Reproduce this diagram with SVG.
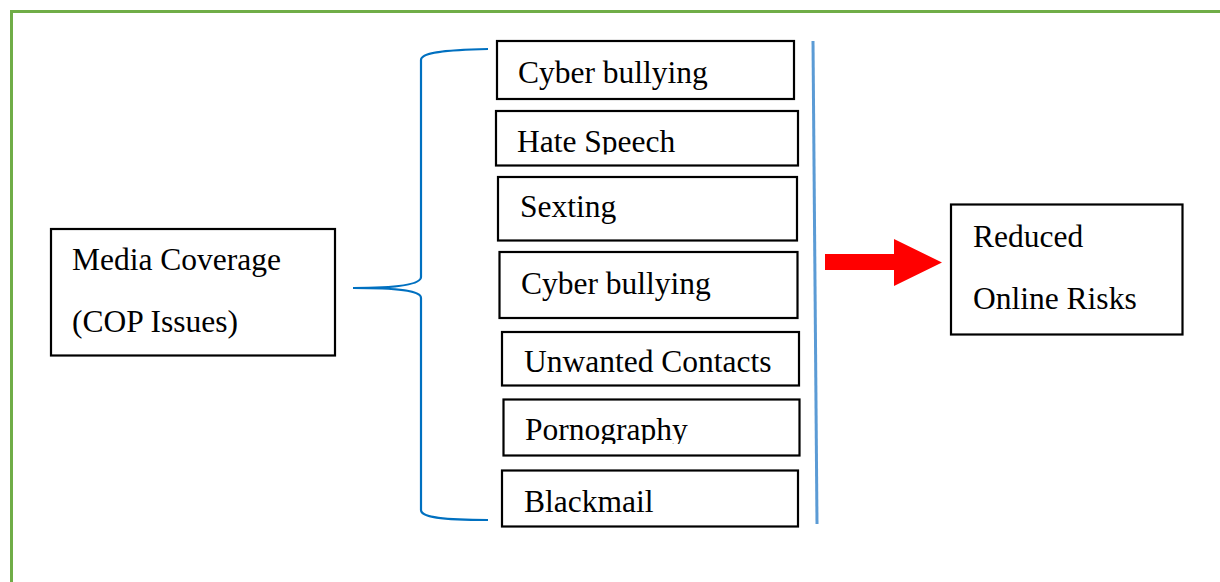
<svg xmlns="http://www.w3.org/2000/svg" width="1220" height="582" viewBox="0 0 1220 582">
<style>
.box{fill:#fff;stroke:#000;stroke-width:2.2}
.t{font-family:"Liberation Serif","Times New Roman",serif;font-size:31.5px;fill:#000}
.brace{fill:none;stroke:#0070C0;stroke-width:2.2}
</style>
<defs>
<clipPath id="clipHate"><rect x="496" y="111" width="302" height="43.5"/></clipPath>
<clipPath id="clipPorn"><rect x="503" y="399" width="297" height="45"/></clipPath>
</defs>
<rect x="0" y="0" width="1220" height="582" fill="#fff"/>
<path d="M11.5 582 V11.5 H1220" fill="none" stroke="#70AD47" stroke-width="3"/>
<g id="media">
<rect class="box" x="51" y="229" width="284" height="126.5"/>
<text class="t" x="72" y="270">Media Coverage</text>
<text class="t" x="72" y="332">(COP Issues)</text>
</g>
<g id="cyber1">
<rect class="box" x="497" y="41" width="297" height="58"/>
<text class="t" x="518" y="83">Cyber bullying</text>
</g>
<g id="hate">
<rect class="box" x="496" y="111" width="302" height="54.5"/>
<text class="t" x="517" y="152" clip-path="url(#clipHate)">Hate Speech</text>
</g>
<g id="sexting">
<rect class="box" x="498" y="177" width="299" height="63.5"/>
<text class="t" x="520" y="217">Sexting</text>
</g>
<g id="cyber2">
<rect class="box" x="499.5" y="252" width="298" height="66"/>
<text class="t" x="521" y="293.5">Cyber bullying</text>
</g>
<g id="unwanted">
<rect class="box" x="502" y="332" width="297" height="53.5"/>
<text class="t" x="524" y="372">Unwanted Contacts</text>
</g>
<g id="porn">
<rect class="box" x="503.5" y="399.5" width="296" height="56"/>
<text class="t" x="525" y="440" clip-path="url(#clipPorn)">Pornography</text>
</g>
<g id="blackmail">
<rect class="box" x="502" y="470.5" width="296" height="56"/>
<text class="t" x="524" y="512">Blackmail</text>
</g>
<g id="reduced">
<rect class="box" x="951" y="204.5" width="231.5" height="130"/>
<text class="t" x="973" y="247">Reduced</text>
<text class="t" x="973" y="309">Online Risks</text>
</g>
<g id="connectors">
<path class="brace" d="M488 49 C440 50 421 53 421 60 V277 C421 284 400 288 353 288 C400 288 421 291 421 298 V510 C421 517 440 520 488 520"/>
<line x1="813" y1="41" x2="817" y2="524" stroke="#5B9BD5" stroke-width="3"/>
<polygon points="825,254 894,254 894,239 942,262.5 894,286 894,270 825,270" fill="#FF0000"/>
</g>
</svg>
